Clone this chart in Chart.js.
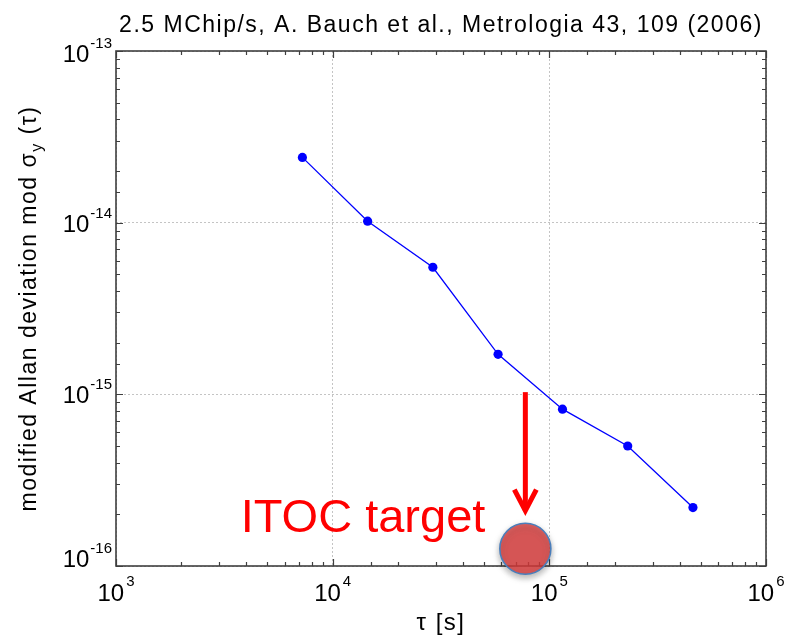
<!DOCTYPE html>
<html><head><meta charset="utf-8">
<script src="https://cdn.jsdelivr.net/npm/chart.js@4.4.1/dist/chart.umd.min.js"></script>
<style>html,body{margin:0;padding:0;background:#fff;}#wrap{width:788px;height:637px;position:relative;}canvas{display:block;}</style>
</head><body><div id="wrap"><canvas id="c" width="788" height="637"></canvas></div>
<script>
// ---- data ----
const tau = [7.25e3, 1.45e4, 2.9e4, 5.8e4, 1.15e5, 2.3e5, 4.6e5];
const modAdev = [2.40e-14, 1.02e-14, 5.50e-15, 1.71e-15, 8.2e-16, 5.0e-16, 2.19e-16];
const targetTau = [7.75e4];
const targetAdev = [1.26e-16];
const arrowFrom = [1.03e-15];
const arrowTo = [2.1e-16];
const xDecades = [3, 4, 5, 6];
const yDecades = [-13, -14, -15, -16];
const titleText = '2.5 MChip/s, A. Bauch et al., Metrologia 43, 109 (2006)';
const xTitle = 'τ [s]';
const yTitleMain = 'modified Allan deviation mod σ';
const yTitleSub = 'y';
const yTitleEnd = ' (τ)';
const targetLabel = 'ITOC target';

const FONT = '"Liberation Sans", Arial, sans-serif';
const isDecade = v => Math.abs(Math.log10(v) - Math.round(Math.log10(v))) < 1e-6;

const decorPlugin = {
  id: 'decor',
  beforeDatasetsDraw(chart) {
    const {ctx, chartArea: a, scales: {x, y}} = chart;
    ctx.save();
    ctx.strokeStyle = '#3f3f3f';
    ctx.lineWidth = 1.2;
    ctx.beginPath();
    x.ticks.forEach(t => {
      const px = Math.round(x.getPixelForValue(t.value)) + 0.5;
      const len = isDecade(t.value) ? 7 : 4;
      ctx.moveTo(px, a.bottom); ctx.lineTo(px, a.bottom - len);
      ctx.moveTo(px, a.top); ctx.lineTo(px, a.top + len);
    });
    y.ticks.forEach(t => {
      const py = Math.round(y.getPixelForValue(t.value)) + 0.5;
      const len = isDecade(t.value) ? 7 : 4;
      ctx.moveTo(a.left, py); ctx.lineTo(a.left + len, py);
      ctx.moveTo(a.right, py); ctx.lineTo(a.right - len, py);
    });
    ctx.stroke();
    ctx.lineWidth = 1.6;
    ctx.strokeRect(a.left, a.top, a.right - a.left, a.bottom - a.top);
    ctx.restore();
  },
  beforeDatasetDraw(chart, args) {
    if (args.index === 1) {
      const ctx = chart.ctx;
      ctx.save();
      ctx.shadowColor = 'rgba(0,0,0,0.35)';
      ctx.shadowBlur = 6;
      ctx.shadowOffsetY = 3;
    }
  },
  afterDatasetDraw(chart, args) {
    if (args.index === 1) chart.ctx.restore();
  },
  afterDatasetsDraw(chart) {
    const {ctx, scales: {x, y}} = chart;
    ctx.save();
    const ax = x.getPixelForValue(targetTau[0]);
    const y0 = y.getPixelForValue(arrowFrom[0]);
    const y1 = y.getPixelForValue(arrowTo[0]);
    ctx.strokeStyle = '#ff0000';
    ctx.lineWidth = 5;
    ctx.lineCap = 'butt';
    ctx.lineJoin = 'miter';
    ctx.beginPath();
    ctx.moveTo(ax, y0); ctx.lineTo(ax, y1);
    ctx.stroke();
    ctx.beginPath();
    ctx.moveTo(ax - 11, y1 - 21); ctx.lineTo(ax, y1); ctx.lineTo(ax + 11, y1 - 21);
    ctx.stroke();
    const cx = x.getPixelForValue(targetTau[0]);
    const cy = y.getPixelForValue(targetAdev[0]);
    ctx.fillStyle = '#ff0000';
    ctx.font = '47px ' + FONT;
    ctx.textAlign = 'right';
    ctx.textBaseline = 'alphabetic';
    ctx.fillText(targetLabel, cx - 40, cy - 17);
    ctx.restore();
  },
  afterDraw(chart) {
    const {ctx, chartArea: a, scales: {x, y}} = chart;
    ctx.save();
    ctx.fillStyle = '#000';
    ctx.textBaseline = 'alphabetic';
    ctx.textAlign = 'left';
    const mainF = '24px ' + FONT, expF = '15px ' + FONT;
    xDecades.forEach(e => {
      const px = x.getPixelForValue(Math.pow(10, e));
      ctx.font = mainF; const wm = ctx.measureText('10').width;
      ctx.font = expF; const we = ctx.measureText(String(e)).width;
      const start = px - (wm + 2 + we) / 2;
      ctx.font = mainF; ctx.fillText('10', start, a.bottom + 35);
      ctx.font = expF; ctx.fillText(String(e), start + wm + 2, a.bottom + 20);
    });
    yDecades.forEach(e => {
      const py = y.getPixelForValue(Math.pow(10, e));
      const s = String(e);
      ctx.font = mainF; const wm = ctx.measureText('10').width;
      ctx.font = expF; const we = ctx.measureText(s).width;
      const right = a.left - 4;
      const base = Math.min(Math.max(py + 9, a.top + 11), a.bottom + 1);
      ctx.font = expF; ctx.fillText(s, right - we, base - 14);
      ctx.font = mainF; ctx.fillText('10', right - we - 1 - wm, base);
    });
    ctx.font = '23px ' + FONT;
    if ('letterSpacing' in ctx) ctx.letterSpacing = '1.5px';
    ctx.textAlign = 'center';
    ctx.fillText(titleText, (a.left + a.right) / 2, 32);
    ctx.font = '24px ' + FONT;
    ctx.fillText(xTitle, (a.left + a.right) / 2, 630);
    ctx.translate(36, (a.top + a.bottom) / 2);
    ctx.rotate(-Math.PI / 2);
    ctx.textAlign = 'left';
    ctx.font = '23px ' + FONT; const w1 = ctx.measureText(yTitleMain).width;
    ctx.font = '16px ' + FONT; const w2 = ctx.measureText(yTitleSub).width;
    ctx.font = '23px ' + FONT; const w3 = ctx.measureText(yTitleEnd).width;
    let sx = -(w1 + w2 + w3) / 2;
    ctx.font = '23px ' + FONT; ctx.fillText(yTitleMain, sx, 0); sx += w1;
    ctx.font = '16px ' + FONT; ctx.fillText(yTitleSub, sx, 6); sx += w2;
    ctx.font = '23px ' + FONT; ctx.fillText(yTitleEnd, sx, 0);
    ctx.restore();
  }
};

new Chart(document.getElementById('c'), {
  type: 'scatter',
  data: {
    datasets: [
      {
        label: 'modified Allan deviation',
        data: tau.map((t, i) => ({x: t, y: modAdev[i]})),
        showLine: true,
        borderColor: '#0000ff',
        backgroundColor: '#0000ff',
        borderWidth: 1.3,
        pointRadius: 4.6,
        pointBorderWidth: 0,
        pointHoverRadius: 4.6,
        order: 2
      },
      {
        label: targetLabel,
        data: targetTau.map((t, i) => ({x: t, y: targetAdev[i]})),
        showLine: false,
        pointRadius: 25.5,
        pointHoverRadius: 25.5,
        backgroundColor: 'rgba(220,60,60,0.8)',
        borderColor: '#4a7ebb',
        borderWidth: 1.6,
        clip: false,
        order: 1
      }
    ]
  },
  options: {
    responsive: false,
    animation: false,
    events: [],
    layout: {autoPadding: false, padding: {left: 116, right: 22, top: 51, bottom: 71}},
    plugins: {legend: {display: false}, tooltip: {enabled: false}, title: {display: false}},
    scales: {
      x: {
        type: 'logarithmic', min: 1e3, max: 1e6,
        ticks: {display: false},
        grid: {drawTicks: false, lineWidth: 1, color: c => (c.tick && isDecade(c.tick.value)) ? '#c4c4c4' : 'rgba(0,0,0,0)'},
        border: {display: false, dash: [2, 2]}
      },
      y: {
        type: 'logarithmic', min: 1e-16, max: 1e-13,
        ticks: {display: false},
        grid: {drawTicks: false, lineWidth: 1, color: c => (c.tick && isDecade(c.tick.value)) ? '#c4c4c4' : 'rgba(0,0,0,0)'},
        border: {display: false, dash: [2, 2]}
      }
    }
  },
  plugins: [decorPlugin]
});
</script>
</body></html>
